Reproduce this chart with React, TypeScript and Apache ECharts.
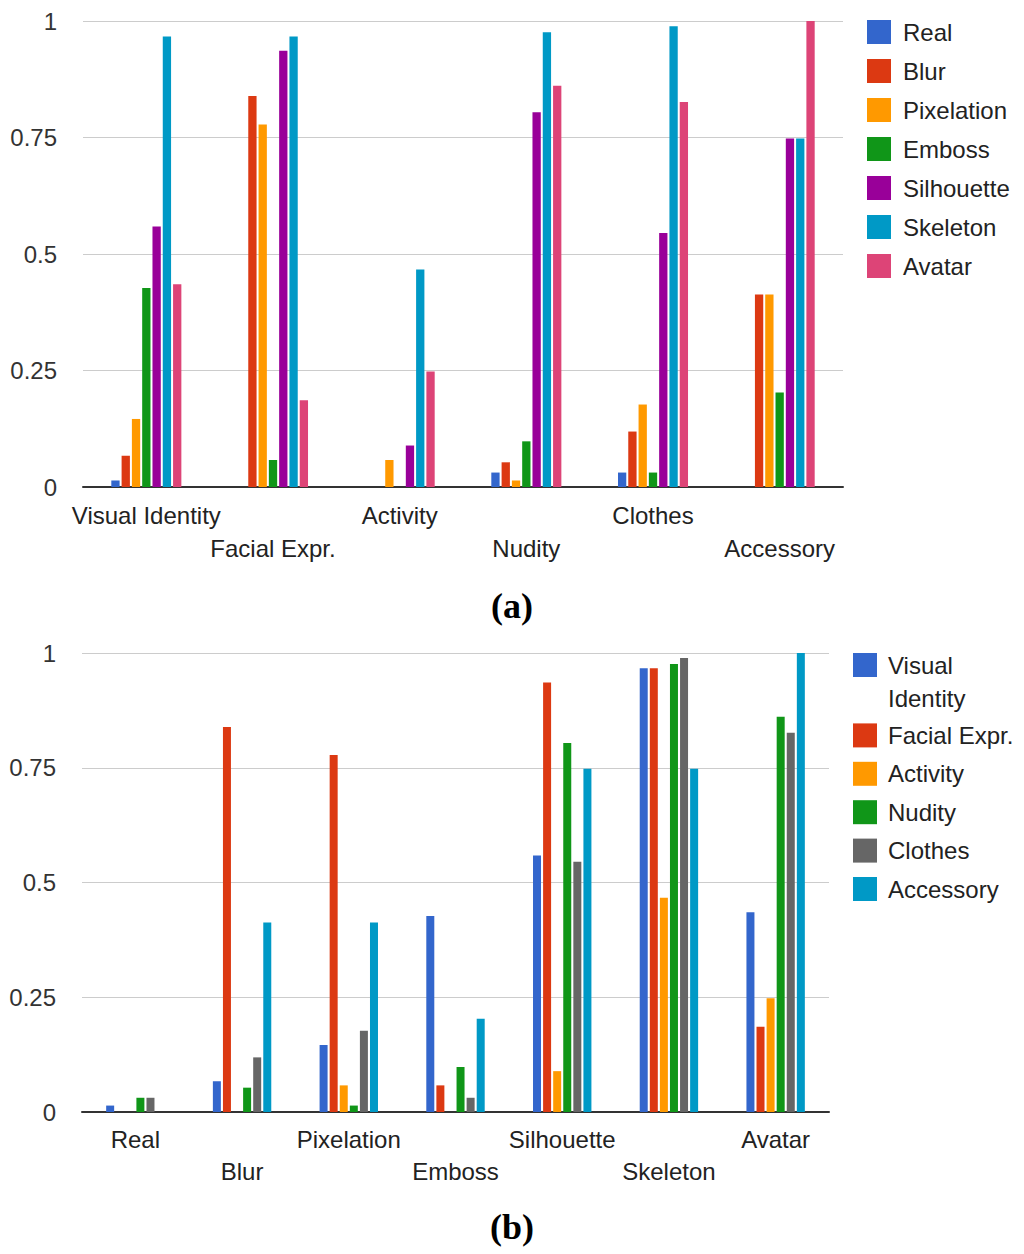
import React, { useEffect, useRef } from "react";
import * as echarts from "echarts";

// Panel (a): categories (privacy attributes) and one series per obfuscation method
const attributes = ["Visual Identity", "Facial Expr.", "Activity", "Nudity", "Clothes", "Accessory"];
const methods = ["Real", "Blur", "Pixelation", "Emboss", "Silhouette", "Skeleton", "Avatar"];

// values per method, ordered as `attributes`
const real = [0.014, 0, 0, 0.031, 0.031, 0];
const blur = [0.067, 0.839, 0, 0.053, 0.119, 0.413];
const pixelation = [0.146, 0.778, 0.058, 0.014, 0.177, 0.413];
const emboss = [0.427, 0.058, 0, 0.098, 0.031, 0.203];
const silhouette = [0.559, 0.936, 0.089, 0.804, 0.545, 0.748];
const skeleton = [0.967, 0.967, 0.467, 0.976, 0.989, 0.748];
const avatar = [0.435, 0.186, 0.248, 0.861, 0.826, 1.0];

const methodValues = [real, blur, pixelation, emboss, silhouette, skeleton, avatar];

const yTicks = [0, 0.25, 0.5, 0.75, 1];

const colorsA = ["#3366cc", "#dc3912", "#ff9900", "#109618", "#990099", "#0099c6", "#dd4477"];
const colorsB = ["#3366cc", "#dc3912", "#ff9900", "#109618", "#666666", "#0099c6"];

const FONT = '"Liberation Sans", Arial, sans-serif';

function buildOption() {
  const yMin = yTicks[0];
  const yMax = yTicks[yTicks.length - 1];
  const yStep = yTicks[1] - yTicks[0];

  const xLabel = (lh: number, margin: number) => ({
    interval: 0,
    margin,
    lineHeight: lh,
    fontSize: 24,
    color: "#222",
    fontFamily: FONT,
    formatter: (v: string, i: number) => (i % 2 === 1 ? "\n" + v : v),
  });

  const yAxisBase = (gridIndex: number) => ({
    type: "value",
    gridIndex,
    min: yMin,
    max: yMax,
    interval: yStep,
    axisLine: { show: false },
    axisTick: { show: false },
    splitLine: { lineStyle: { color: "#cccccc", width: 1.2 } },
    axisLabel: { margin: 26, fontSize: 24, color: "#333", fontFamily: FONT },
  });

  const seriesA = methods.map((m, k) => ({
    type: "bar",
    name: m,
    xAxisIndex: 0,
    yAxisIndex: 0,
    data: methodValues[k],
    barWidth: 8.3,
    barGap: "24%",
    itemStyle: { color: colorsA[k] },
  }));

  const seriesB = attributes.map((a, j) => ({
    type: "bar",
    name: a,
    xAxisIndex: 1,
    yAxisIndex: 1,
    data: methodValues.map((vals) => vals[j]),
    barWidth: 8,
    barGap: "26%",
    itemStyle: { color: colorsB[j] },
  }));

  // custom legend for panel (b) (long names wrap onto two lines)
  const legendB: any[] = [];
  let ly = 653;
  attributes.forEach((a, j) => {
    const label = a.length > 12 ? a.replace(" ", "\n") : a;
    const lines = label.split("\n").length;
    legendB.push({
      type: "rect",
      shape: { x: 853, y: ly, width: 24, height: 24 },
      style: { fill: colorsB[j] },
      silent: true,
    });
    legendB.push({
      type: "text",
      x: 888,
      y: ly + 12 - 16.5,
      style: {
        text: label,
        fill: "#222",
        fontSize: 24,
        fontFamily: FONT,
        lineHeight: 33,
        align: "left",
        verticalAlign: "top",
        textAlign: "left",
        textVerticalAlign: "top",
      },
      silent: true,
    });
    ly += 38.4 + (lines - 1) * 32;
  });

  const caption = (t: string, y: number) => ({
    type: "text",
    x: 512,
    y,
    style: {
      text: t,
      fill: "#000",
      fontSize: 36,
      fontWeight: "bold",
      fontFamily: '"Liberation Serif", "Times New Roman", serif',
      align: "center",
      verticalAlign: "middle",
      textAlign: "center",
      textVerticalAlign: "middle",
    },
    silent: true,
  });

  return {
    animation: false,
    backgroundColor: "#ffffff",
    grid: [
      { left: 83, top: 21, width: 760, height: 466 },
      { left: 82, top: 653, width: 747, height: 459 },
    ],
    xAxis: [
      {
        type: "category",
        gridIndex: 0,
        data: attributes,
        axisTick: { show: false },
        axisLine: { lineStyle: { color: "#333", width: 2 } },
        axisLabel: xLabel(33, 11.5),
      },
      {
        type: "category",
        gridIndex: 1,
        data: methods,
        axisTick: { show: false },
        axisLine: { lineStyle: { color: "#333", width: 2 } },
        axisLabel: xLabel(32, 11.7),
      },
    ],
    yAxis: [yAxisBase(0), yAxisBase(1)],
    legend: {
      orient: "vertical",
      left: 867,
      top: 20,
      padding: 0,
      itemWidth: 24,
      itemHeight: 24,
      itemGap: 15,
      icon: "rect",
      selectedMode: false,
      data: methods,
      textStyle: { fontSize: 24, color: "#222", fontFamily: FONT, padding: [0, 0, 0, 7], lineHeight: 24 },
    },
    graphic: [...legendB, caption("(a)", 606), caption("(b)", 1227)],
    series: [...seriesA, ...seriesB],
  };
}

export default function App() {
  const ref = useRef<HTMLDivElement>(null);
  useEffect(() => {
    if (!ref.current) return;
    const chart = echarts.init(ref.current, null, { renderer: "svg" });
    chart.setOption(buildOption() as any);
    return () => chart.dispose();
  }, []);
  return (
    <div
      ref={ref}
      style={{ position: "absolute", left: 0, top: 0, width: 1024, height: 1254, background: "#fff" }}
    />
  );
}
